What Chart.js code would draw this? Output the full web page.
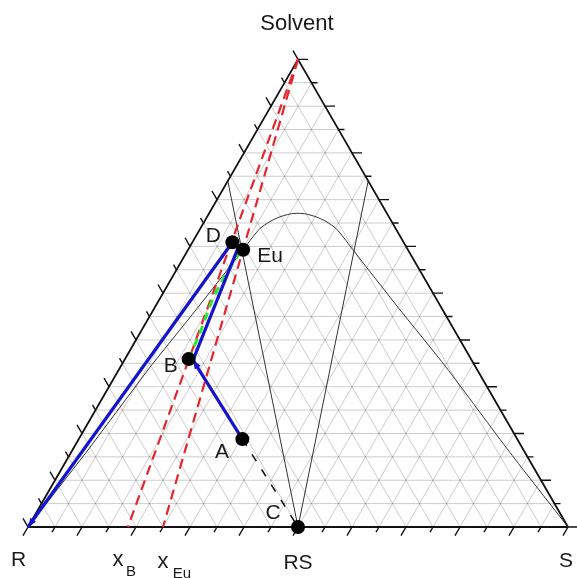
<!DOCTYPE html>
<html>
<head>
<meta charset="utf-8">
<script src="https://cdn.jsdelivr.net/npm/chart.js@4.4.1/dist/chart.umd.min.js"></script>
<style>
  html, body { margin: 0; padding: 0; background: #fff; }
  #wrap { width: 577px; height: 578px; }
</style>
</head>
<body>
<div id="wrap"><canvas id="chart" width="577" height="578"></canvas></div>
<script>
// Compositions are [S fraction, Solvent fraction]; R = 1 - S - Solvent
const pointRS = [0.5, 0];
const pointA = [0.303, 0.188];
const pointB = [0.118, 0.359];
const pointD = [0.074, 0.609];
const pointEu = [0.102, 0.593];
const turnB = [0.127, 0.357];
const turnD = [0.0906, 0.5967];
const vertexR = [0, 0];
const vertexSolvent = [0, 1];

// solvent-free compositions on the R-S edge
const xB = 0.185;
const xEu = 0.25;

// solubility curves
const liquidusLeft = [[0, 0], [0.028, 0.16], [0.055, 0.342], [0.08, 0.47], [0.102, 0.593]];
const liquidusRight = [[0.102, 0.593], [0.1058, 0.618], [0.1104, 0.6383], [0.1214, 0.6533], [0.135, 0.6633],
    [0.1505, 0.6693], [0.1646, 0.6708], [0.1802, 0.6693], [0.2017, 0.6633], [0.2253, 0.6533],
    [0.2513, 0.6383], [0.2762, 0.618], [0.305, 0.593], [0.45, 0.47], [0.603, 0.342], [0.812, 0.16], [1, 0]];
const tieLeft = [[0, 0.74], [0.5, 0]];
const tieRight = [[0.26, 0.74], [0.5, 0]];

// crystallisation path along the liquidus
const greenPath = [[0.118, 0.359], [0.111, 0.415], [0.097, 0.4925], [0.0958, 0.5566], [0.0986, 0.5816], [0.102, 0.593]];

const SQ = Math.sqrt(3) / 2;
const xy = c => ({ x: c[0] + c[1] / 2, y: c[1] * SQ });

function path(points, color, width, dash, extra) {
    return Object.assign({
        data: points.map(xy), showLine: true, borderColor: color, borderWidth: width,
        borderDash: dash || [], pointRadius: 0, clip: false, tension: 0
    }, extra || {});
}

const FONT = '"Liberation Sans", Arial, sans-serif';

// grid, frame and ticks of the triangle
const ternaryFrame = {
    id: 'ternaryFrame',
    beforeDatasetsDraw(chart) {
        const ctx = chart.ctx, xs = chart.scales.x, ys = chart.scales.y;
        const px = c => { const p = xy(c); return [xs.getPixelForValue(p.x), ys.getPixelForValue(p.y)]; };
        const seg = (a, b) => { const p = px(a), q = px(b); ctx.moveTo(p[0], p[1]); ctx.lineTo(q[0], q[1]); };
        ctx.save();
        ctx.strokeStyle = 'rgba(0,0,0,0.2)';
        ctx.lineWidth = 1;
        ctx.beginPath();
        for (let i = 1; i < 20; i++) {
            const f = i / 20;
            seg([0, f], [1 - f, f]);
            seg([f, 0], [f, 1 - f]);
            seg([1 - f, 0], [0, 1 - f]);
        }
        ctx.stroke();

        ctx.strokeStyle = '#111';
        ctx.lineWidth = 1.8;
        ctx.beginPath();
        seg([0, 0], [1, 0]);
        seg([1, 0], [0, 1]);
        seg([0, 1], [0, 0]);
        ctx.stroke();

        ctx.lineWidth = 1.4;
        ctx.beginPath();
        for (let i = 0; i <= 20; i++) {
            const f = i / 20, L = i % 2 === 0 ? 10 : 6;
            let p = px([f, 0]);
            ctx.moveTo(p[0], p[1]); ctx.lineTo(p[0] - 0.5 * L, p[1] + SQ * L);
            p = px([1 - f, f]);
            ctx.moveTo(p[0], p[1]); ctx.lineTo(p[0] + L, p[1]);
            p = px([0, f]);
            ctx.moveTo(p[0], p[1]); ctx.lineTo(p[0] - 0.5 * L, p[1] - SQ * L);
        }
        ctx.stroke();
        ctx.restore();
    },
    afterDatasetsDraw(chart) {
        const ctx = chart.ctx, xs = chart.scales.x, ys = chart.scales.y;
        const px = c => { const p = xy(c); return [xs.getPixelForValue(p.x), ys.getPixelForValue(p.y)]; };
        ctx.save();
        ctx.fillStyle = '#1a1a1a';
        ctx.textAlign = 'center';
        ctx.textBaseline = 'middle';
        const text = (s, c, dx, dy, size) => {
            const p = px(c);
            ctx.font = size + 'px ' + FONT;
            ctx.fillText(s, p[0] + dx, p[1] + dy);
        };
        text('Solvent', vertexSolvent, -1, -35, 22);
        text('R', vertexR, -9.5, 33, 21);
        text('S', [1, 0], -2, 34, 21);
        text('RS', pointRS, 0, 36, 21);
        text('x', [xB, 0], -10, 33, 22);
        text('B', [xB, 0], 3, 45, 15);
        text('x', [xEu, 0], 0, 35, 22);
        text('Eu', [xEu, 0], 19, 47, 15);
        text('D', pointD, -19, -6, 21);
        text('Eu', pointEu, 27, 7, 21);
        text('B', pointB, -18, 7, 21);
        text('A', pointA, -20.5, 13, 21);
        text('C', pointRS, -25, -14, 21);
        ctx.restore();
    }
};

// arrow heads at the end of the marked paths
const arrowHeads = {
    id: 'arrowHeads',
    afterDatasetDraw(chart, args) {
        const ds = chart.data.datasets[args.index];
        if (!ds.arrow) return;
        const ctx = chart.ctx, pts = args.meta.data;
        const a = pts[pts.length - 2], b = pts[pts.length - 1];
        const ang = Math.atan2(b.y - a.y, b.x - a.x), c = Math.cos(ang), s = Math.sin(ang);
        ctx.save();
        ctx.fillStyle = ds.borderColor;
        ctx.beginPath();
        ctx.moveTo(b.x, b.y);
        ctx.lineTo(b.x - 9 * c + 3.5 * s, b.y - 9 * s - 3.5 * c);
        ctx.lineTo(b.x - 9 * c - 3.5 * s, b.y - 9 * s + 3.5 * c);
        ctx.closePath();
        ctx.fill();
        ctx.restore();
    }
};

// Chart.js paints the first dataset on top, so the list runs from front to back
new Chart(document.getElementById('chart'), {
    type: 'scatter',
    data: {
        datasets: [
            {
                data: [pointD, pointEu, pointB, pointA, pointRS].map(xy),
                pointRadius: 7, pointBackgroundColor: '#000', pointBorderWidth: 0,
                showLine: false, clip: false
            },
            path([pointA, pointRS], '#111', 1.5, [8, 10]),
            path([turnB, turnD], '#1414cc', 3.2),
            path([pointA, turnB], '#1414cc', 3.2, null, { arrow: true }),
            path([pointD, vertexR], '#1414cc', 3.2, null, { arrow: true }),
            path(greenPath, '#2ee82e', 3, [8, 6]),
            path([vertexSolvent, [xEu, 0]], '#e8242c', 2.2, [10, 6]),
            path([vertexSolvent, [xB, 0]], '#e8242c', 2.2, [10, 6]),
            path(liquidusRight, '#333', 1, null, { tension: 0.2 }),
            path(liquidusLeft, '#333', 1),
            path(tieRight, '#333', 1),
            path(tieLeft, '#333', 1)
        ]
    },
    options: {
        responsive: false,
        animation: false,
        layout: { padding: { left: 28, right: 9, top: 41, bottom: 51 } },
        scales: {
            x: { type: 'linear', min: 0, max: 1, display: false },
            y: { type: 'linear', min: 0, max: 0.9, display: false }
        },
        plugins: { legend: { display: false }, tooltip: { enabled: false } }
    },
    plugins: [ternaryFrame, arrowHeads]
});
</script>
</body>
</html>
